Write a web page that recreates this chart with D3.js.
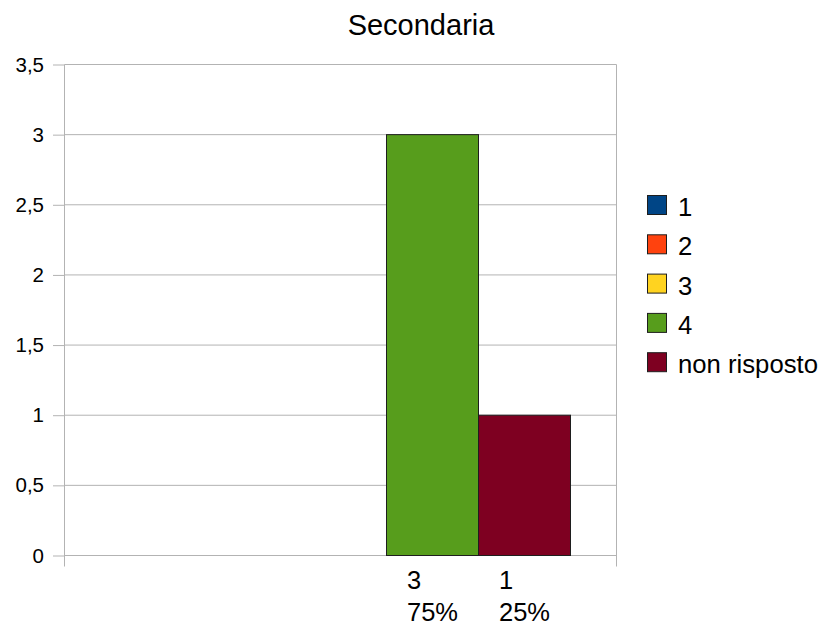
<!DOCTYPE html>
<html>
<head>
<meta charset="utf-8">
<script src="https://cdn.jsdelivr.net/npm/d3@7"></script>
<style>
  html, body { margin: 0; padding: 0; background: #fff; }
  svg { display: block; font-family: "Liberation Sans", Arial, sans-serif; }
</style>
</head>
<body>
<svg id="chart" width="825" height="628"></svg>
<script>
const title = "Secondaria";
const categories = ["Secondaria"];
const series = ["1", "2", "3", "4", "non risposto"];
const values = [0, 0, 0, 3, 1];
const colors = ["#004586", "#ff420e", "#ffd320", "#579d1c", "#7e0021"];
const yTicks = [0, 0.5, 1, 1.5, 2, 2.5, 3, 3.5];

(function () {
const svg = d3.select("#chart");
const pL = 64.5, pR = 616.5, pT = 64.5, pB = 555.5;

const x0 = d3.scaleBand().domain(categories).range([pL, pR]).paddingInner(0).paddingOuter(0);
const x1 = d3.scaleBand().domain(series).range([0, x0.bandwidth()]).paddingInner(0).paddingOuter(0.5);
const y = d3.scaleLinear().domain([0, 3.5]).range([pB, pT]);

const grid = "#b3b3b3";
const fmt = v => String(v).replace(".", ",");

// horizontal gridlines + left tick stubs
const yAxis = d3.axisLeft(y).tickValues(yTicks).tickSize(pL - 53).tickFormat(fmt).tickPadding(9);
const gy = svg.append("g").attr("transform", `translate(${pL},0)`).call(yAxis);
gy.select(".domain").remove();
gy.selectAll(".tick line").attr("stroke", grid);
gy.selectAll(".tick text").attr("font-size", 20.5).attr("fill", "#000")
  .attr("font-family", '"Liberation Sans", Arial, sans-serif');
svg.append("g").selectAll("line").data(yTicks).join("line")
  .attr("x1", pL).attr("x2", pR)
  .attr("y1", d => y(d)).attr("y2", d => y(d))
  .attr("stroke", grid);

// vertical category boundary lines
const bounds = [x0(categories[0]), x0(categories[0]) + x0.bandwidth()];
svg.append("g").selectAll("line").data(bounds).join("line")
  .attr("x1", d => d).attr("x2", d => d)
  .attr("y1", pT).attr("y2", pB + 11)
  .attr("stroke", grid);

// bars
const data = series.map((s, i) => ({ s, v: values[i], c: colors[i] }));
const total = d3.sum(values);
const g = svg.append("g");
g.selectAll("rect").data(data.filter(d => d.v > 0)).join("rect")
  .attr("x", d => x0(categories[0]) + x1(d.s))
  .attr("width", x1.bandwidth())
  .attr("y", d => y(d.v))
  .attr("height", d => y(0) - y(d.v))
  .attr("fill", d => d.c)
  .attr("stroke", "#1e1e1e")
  .attr("stroke-width", 1);

// labels under bars (value and percentage)
const lab = svg.append("g").selectAll("g").data(data.filter(d => d.v > 0)).join("g")
  .attr("transform", d => `translate(${x0(categories[0]) + x1(d.s) + x1.bandwidth() / 2},0)`);
lab.each(function(d) {
  const gg = d3.select(this);
  const pct = Math.round(d.v / total * 100) + "%";
  const t2 = gg.append("text").attr("y", 621).attr("font-size", 25.5).text(pct);
  const w = t2.node().getComputedTextLength();
  t2.attr("x", -w / 2);
  gg.append("text").attr("x", -w / 2).attr("y", 589).attr("font-size", 25.5).text(d.v);
});

// title
svg.append("text").attr("x", 421).attr("y", 35).attr("text-anchor", "middle")
  .attr("font-size", 29).text(title);

// legend
const leg = svg.append("g").selectAll("g").data(data).join("g")
  .attr("transform", (d, i) => `translate(647,${195 + i * 39.3})`);
leg.append("rect").attr("x", 0.5).attr("y", 0.5).attr("width", 19).attr("height", 19)
  .attr("fill", d => d.c).attr("stroke", "#1e1e1e");
leg.append("text").attr("x", 31).attr("y", 21).attr("font-size", 25.7).text(d => d.s);
})();
</script>
</body>
</html>
